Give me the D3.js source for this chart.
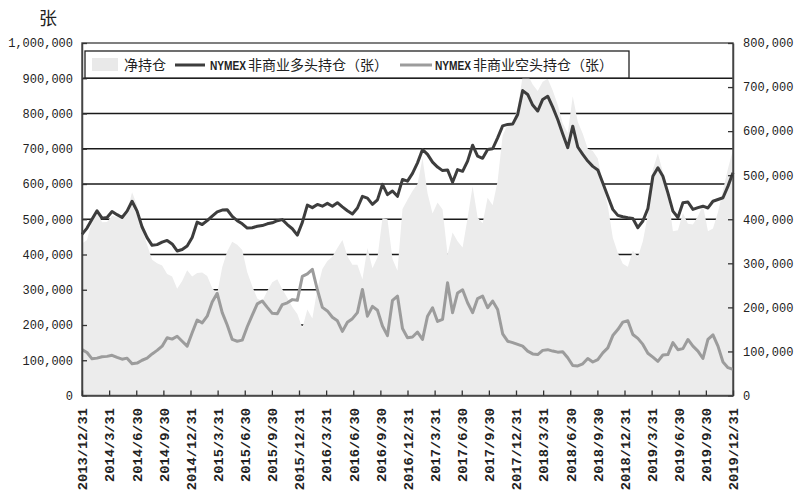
<!DOCTYPE html>
<html><head><meta charset="utf-8">
<script src="https://cdn.jsdelivr.net/npm/d3@7"></script>
<style>body{margin:0;background:#fff}</style>
</head><body><svg id="c" width="800" height="500"></svg>
<script>
const quarterLabels = ["2013/12/31","2014/3/31","2014/6/30","2014/9/30","2014/12/31","2015/3/31","2015/6/30","2015/9/30","2015/12/31","2016/3/31","2016/6/30","2016/9/30","2016/12/31","2017/3/31","2017/6/30","2017/9/30","2017/12/31","2018/3/31","2018/6/30","2018/9/30","2018/12/31","2019/3/31","2019/6/30","2019/9/30","2019/12/31"];

// NYMEX non-commercial long (left axis)
const longPos = [457000,475000,500000,524000,503000,505000,522000,513000,505000,523000,551000,523000,478000,448000,426000,428000,435000,440000,430000,410000,414000,424000,448000,492000,485000,496000,509000,521000,526000,527000,508000,496000,487000,475000,476000,480000,482000,487000,490000,496000,499000,485000,473000,455000,491000,540000,533000,542000,537000,545000,537000,547000,535000,524000,515000,532000,565000,560000,542000,555000,599000,570000,580000,565000,613000,608000,630000,660000,698000,684000,662000,648000,638000,640000,605000,641000,636000,665000,710000,679000,673000,698000,700000,731000,765000,769000,770000,797000,865000,854000,824000,807000,840000,849000,818000,783000,742000,703000,764000,705000,684000,665000,650000,640000,603000,565000,528000,511000,507000,504000,502000,476000,495000,530000,622000,646000,622000,575000,523000,505000,547000,549000,528000,533000,537000,532000,551000,556000,561000,594000,632000];

// NYMEX non-commercial short (left axis)
const shortPos = [130000,122000,104000,106000,110000,111000,114000,108000,103000,106000,90000,92000,100000,106000,118000,128000,140000,164000,160000,168000,154000,140000,178000,214000,206000,225000,265000,290000,235000,200000,159000,154000,157000,195000,228000,260000,268000,250000,233000,232000,258000,263000,272000,270000,338000,345000,358000,300000,250000,240000,222000,212000,182000,208000,218000,235000,301000,225000,253000,242000,197000,170000,270000,282000,190000,164000,166000,180000,159000,225000,249000,210000,216000,320000,235000,291000,300000,263000,235000,275000,282000,249000,268000,244000,175000,154000,150000,145000,140000,126000,118000,116000,128000,130000,126000,123000,124000,107000,85000,84000,90000,105000,95000,102000,121000,135000,170000,187000,208000,212000,173000,162000,145000,120000,109000,97000,115000,116000,150000,130000,133000,159000,140000,126000,105000,159000,172000,140000,95000,79000,74000];

// Net position (right axis, area)
const netPos = [345000,353000,396000,418000,393000,394000,408000,405000,402000,417000,461000,431000,378000,342000,308000,300000,295000,276000,270000,242000,260000,284000,270000,278000,279000,271000,244000,231000,291000,327000,349000,342000,330000,280000,248000,220000,214000,237000,257000,264000,241000,222000,201000,185000,153000,195000,175000,242000,287000,305000,315000,335000,353000,316000,297000,297000,264000,335000,289000,313000,402000,400000,310000,283000,423000,444000,464000,480000,539000,459000,413000,438000,422000,320000,370000,350000,336000,402000,475000,404000,391000,449000,432000,487000,590000,615000,620000,652000,725000,728000,706000,691000,712000,719000,692000,660000,618000,596000,679000,621000,594000,560000,555000,538000,482000,430000,358000,324000,299000,292000,329000,314000,350000,410000,513000,549000,507000,459000,373000,375000,414000,390000,388000,407000,432000,373000,379000,416000,466000,515000,558000];

const leftTicks = [0,100000,200000,300000,400000,500000,600000,700000,800000,900000,1000000];
const rightTicks = [0,100000,200000,300000,400000,500000,600000,700000,800000];
const gridValues = [100000,200000,300000,400000,500000,600000,700000,800000,900000];

const legendNames = ["净持仓","NYMEX","非商业多头持仓（张）","NYMEX","非商业空头持仓（张）"];

const W = 800, H = 500, L = 82, R = 733, T = 43, B = 395.5;
const cLong = "#3d3d3d", cShort = "#9c9c9c", cArea = "#ececec";
const svg = d3.select("#c");
svg.append("rect").attr("width", W).attr("height", H).attr("fill", "#fff");

const yL = d3.scaleLinear().domain([0, 1000000]).range([B, T]);
const yR = d3.scaleLinear().domain([0, 800000]).range([B, T]);
const xI = d3.scaleLinear().domain([0, longPos.length - 1]).range([L, R]);
const xQ = d3.scalePoint().domain(quarterLabels).range([L, R]);

// gridlines
svg.append("g").selectAll("line").data(gridValues).join("line")
  .attr("x1", L).attr("x2", R)
  .attr("y1", d => yL(d)).attr("y2", d => yL(d))
  .attr("stroke", "#1a1a1a").attr("stroke-width", 1.4);

// net area
svg.append("path").datum(netPos)
  .attr("fill", cArea)
  .attr("d", d3.area().x((d, i) => xI(i)).y0(yR(0)).y1(d => yR(d)));

// border
svg.append("rect").attr("x", L).attr("y", T).attr("width", R - L).attr("height", B - T)
  .attr("fill", "none").attr("stroke", "#555").attr("stroke-width", 1.5);

// lines
const line = d3.line().x((d, i) => xI(i)).y(d => yL(d));
svg.append("path").datum(shortPos).attr("fill", "none").attr("stroke", cShort)
  .attr("stroke-width", 3).attr("stroke-linejoin", "round").attr("d", line);
svg.append("path").datum(longPos).attr("fill", "none").attr("stroke", cLong)
  .attr("stroke-width", 3).attr("stroke-linejoin", "round").attr("d", line);

// axes
const fmt = d3.format(",");
function styleAxis(g) {
  g.select(".domain").attr("stroke", "#444").attr("stroke-width", 1.5);
  g.selectAll(".tick line").attr("stroke", "#333").attr("stroke-width", 1.3);
  g.selectAll("text").attr("fill", "#222").style("font-family", "Liberation Mono, DejaVu Sans Mono, monospace");
}
const gl = svg.append("g").attr("transform", `translate(${L},0)`)
  .call(d3.axisLeft(yL).tickValues(leftTicks).tickFormat(fmt).tickSizeInner(-5).tickSizeOuter(0).tickPadding(9));
styleAxis(gl); gl.selectAll("text").style("font-size", "12px");

const gr = svg.append("g").attr("transform", `translate(${R},0)`)
  .call(d3.axisRight(yR).tickValues(rightTicks).tickFormat(fmt).tickSizeInner(-5).tickSizeOuter(0).tickPadding(10));
styleAxis(gr); gr.selectAll("text").style("font-size", "12px");

const gb = svg.append("g").attr("transform", `translate(0,${B})`)
  .call(d3.axisBottom(xQ).tickSizeInner(-5).tickSizeOuter(0).tickPadding(0));
styleAxis(gb);
gb.selectAll("text").attr("transform", "rotate(-90)").attr("x", -12.5).attr("y", 0)
  .attr("dy", "0.35em").style("text-anchor", "end").style("font-size", "13.7px").style("font-weight", "bold");

// unit label
svg.append("text").attr("x", 48).attr("y", 25).attr("text-anchor", "middle")
  .style("font-family", "Noto Sans CJK SC").style("font-size", "18px").attr("fill", "#222").text("张");

// legend
const lg = svg.append("g");
lg.append("rect").attr("x", 85).attr("y", 51).attr("width", 544).attr("height", 27)
  .attr("fill", "#fff").attr("stroke", "#222").attr("stroke-width", 1.3);
lg.append("rect").attr("x", 92).attr("y", 58).attr("width", 26).attr("height", 13).attr("fill", "#e9e9e9");
const cjk = (x, t) => lg.append("text").attr("x", x).attr("y", 70).attr("fill", "#222")
  .style("font-family", "Noto Sans CJK SC").style("font-size", "14px").text(t);
const latin = (x, t) => lg.append("text").attr("transform", `translate(${x},70) scale(0.78,1)`).attr("fill", "#222")
  .style("font-family", "Liberation Sans").style("font-weight", "bold").style("font-size", "13px").text(t);
cjk(124, legendNames[0]);
lg.append("line").attr("x1", 175).attr("x2", 205).attr("y1", 65).attr("y2", 65).attr("stroke", cLong).attr("stroke-width", 3);
latin(210, legendNames[1]);
cjk(248, legendNames[2]);
lg.append("line").attr("x1", 400).attr("x2", 432).attr("y1", 65).attr("y2", 65).attr("stroke", cShort).attr("stroke-width", 3);
latin(435, legendNames[3]);
cjk(473, legendNames[4]);
</script></body></html>
